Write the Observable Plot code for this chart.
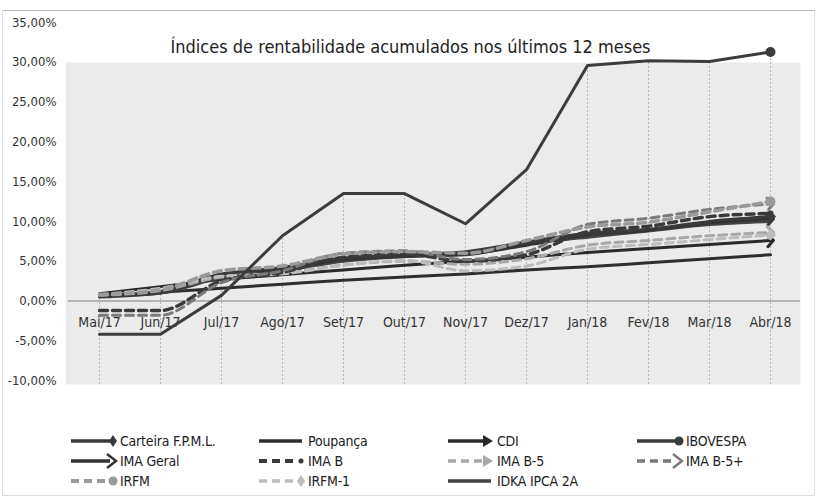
<!DOCTYPE html>
<html>
<head>
<meta charset="utf-8">
<script src="https://cdn.jsdelivr.net/npm/d3@7"></script>
<script src="https://cdn.jsdelivr.net/npm/@observablehq/plot@0.6"></script>
<style>
  html, body { margin: 0; padding: 0; background: #fff; }
  #wrap { position: relative; width: 819px; height: 499px; overflow: hidden; font-family: "DejaVu Sans Condensed", "Liberation Sans", sans-serif; font-stretch: condensed; }
  #border { position: absolute; left: 2px; top: 10px; width: 813px; height: 486px; border: 1px solid #dedede; border-top-color: #b8b8b8; box-sizing: border-box; pointer-events: none; }
  #chart { position: absolute; left: 0; top: 0; }
  .leg { position: absolute; display: flex; align-items: center; font-size: 14px; color: #222; white-space: nowrap; letter-spacing: -0.2px; }
  .leg svg { margin-right: 2px; }
</style>
</head>
<body>
<div id="wrap"><div id="chart"></div><div id="border"></div></div>
<script>
const months = ["Mai/17","Jun/17","Jul/17","Ago/17","Set/17","Out/17","Nov/17","Dez/17","Jan/18","Fev/18","Mar/18","Abr/18"];
const yTicks = [-10, -5, 0, 5, 10, 15, 20, 25, 30, 35];
const title = "Índices de rentabilidade acumulados nos últimos 12 meses";

const seriesNames = ["Carteira F.P.M.L.","Poupança","CDI","IBOVESPA","IMA Geral","IMA B","IMA B-5","IMA B-5+","IRFM","IRFM-1","IDKA IPCA 2A"];
const carteira = [0.6, 1.0, 3.3, 4.2, 5.4, 5.8, 6.2, 7.4, 8.5, 9.0, 10.0, 10.6];
const poupanca = [0.55, 1.1, 1.6, 2.1, 2.6, 3.0, 3.4, 3.9, 4.3, 4.8, 5.3, 5.8];
const cdi = [0.9, 1.8, 2.7, 3.3, 3.9, 4.5, 5.0, 5.5, 6.1, 6.6, 7.1, 7.6];
const ibovespa = [-4.2, -4.2, 0.7, 8.2, 13.5, 13.5, 9.7, 16.5, 29.6, 30.2, 30.1, 31.3];
const imaGeral = [0.7, 1.2, 3.4, 4.0, 5.2, 5.6, 5.9, 7.0, 8.3, 8.9, 9.8, 10.3];
const imaB = [-1.2, -1.2, 2.5, 3.6, 5.5, 5.9, 5.0, 5.8, 8.7, 9.4, 10.6, 11.0];
const imaB5 = [0.7, 1.3, 3.0, 3.5, 4.5, 5.0, 4.6, 5.3, 7.0, 7.6, 8.2, 8.6];
const imaB5mais = [-1.8, -1.8, 2.3, 3.8, 6.0, 6.3, 5.2, 6.2, 9.6, 10.4, 11.5, 12.2];
const irfm = [0.8, 1.4, 3.8, 4.4, 5.9, 6.2, 6.0, 7.6, 9.3, 9.9, 11.2, 12.5];
const irfm1 = [0.8, 1.6, 3.1, 3.4, 4.5, 5.1, 3.8, 4.4, 6.5, 7.1, 7.7, 8.3];
const idka = [0.5, 1.0, 2.9, 3.8, 5.0, 5.6, 5.8, 7.2, 8.0, 8.8, 9.6, 10.0];

const seriesValues = [carteira, poupanca, cdi, ibovespa, imaGeral, imaB, imaB5, imaB5mais, irfm, irfm1, idka];

const styles = [
  {color: "#3a3a3a", dash: null, width: 3, marker: "diamond"},
  {color: "#2e2e2e", dash: null, width: 3, marker: null},
  {color: "#2a2a2a", dash: null, width: 3, marker: "arrow"},
  {color: "#3c3c3c", dash: null, width: 3, marker: "circle"},
  {color: "#333333", dash: null, width: 3, marker: "open"},
  {color: "#3a3a3a", dash: "8,5", width: 3.5, marker: "dot"},
  {color: "#a8a8a8", dash: "8,5", width: 3, marker: "arrow"},
  {color: "#7a7a7a", dash: "8,5", width: 3, marker: "open"},
  {color: "#9a9a9a", dash: "8,5", width: 3.5, marker: "circle"},
  {color: "#bdbdbd", dash: "8,5", width: 3, marker: "diamond"},
  {color: "#444444", dash: null, width: 3, marker: null}
];

const rows = [];
seriesNames.forEach((name, i) => {
  seriesValues[i].forEach((v, j) => rows.push({name, month: months[j], value: v, idx: j}));
});
const maxPerMonth = months.map((m, j) => ({month: m, top: d3.max(seriesValues, s => s[j])}));

const fmt = v => v.toFixed(2).replace(".", ",") + "%";

const lineMarks = [];
const drawOrder = [1, 2, 10, 4, 0, 6, 9, 5, 7, 8, 3];
for (const i of drawOrder) {
  const st = styles[i];
  const data = rows.filter(r => r.name === seriesNames[i]);
  lineMarks.push(Plot.line(data, {
    x: "month", y: "value",
    stroke: st.color, strokeWidth: st.width,
    strokeDasharray: st.dash || undefined,
    curve: i === 3 ? "linear" : "monotone-x",
    markerEnd: (st.marker === "arrow" || st.marker === "open") ? "arrow" : undefined
  }));
  const last = data[data.length - 1];
  if (st.marker === "diamond") lineMarks.push(Plot.dot([last], {x: "month", y: "value", symbol: "diamond2", r: 5, fill: st.color}));
  if (st.marker === "circle") lineMarks.push(Plot.dot([last], {x: "month", y: "value", symbol: "circle", r: 5, fill: st.color}));
  if (st.marker === "dot") lineMarks.push(Plot.dot([last], {x: "month", y: "value", symbol: "circle", r: 3, fill: st.color}));
}

const plot = Plot.plot({
  width: 819,
  height: 400,
  marginLeft: 68,
  marginRight: 19,
  marginTop: 22,
  marginBottom: 20,
  style: {fontFamily: "DejaVu Sans Condensed, Liberation Sans, sans-serif", background: "transparent"},
  x: {type: "point", domain: months, padding: 0.5, axis: null},
  y: {domain: [-10, 35], ticks: yTicks, tickFormat: fmt},
  marks: [
    Plot.frame({fill: "#ebebeb", stroke: null, insetTop: 40, insetBottom: -4, insetLeft: -3}),
    Plot.ruleX(maxPerMonth, {x: "month", y1: -10.5, y2: "top", stroke: "#a8a8a8", strokeWidth: 0.8, strokeDasharray: "2,2"}),
    Plot.ruleY([0], {stroke: "#a0a0a0", strokeWidth: 1.5}),
    Plot.axisY({ticks: yTicks, tickFormat: fmt, tickSize: 0, tickPadding: 12, fontSize: 13, color: "#333", label: null}),
    Plot.text(months, {x: d => d, y: -2.7, text: d => d, fontSize: 14, fill: "#333"}),
    ...lineMarks,
    Plot.text([title], {frameAnchor: "top", dx: -24, dy: 25, text: d => d, fontSize: 18, fill: "#222", lineAnchor: "middle"})
  ]
});
document.getElementById("chart").appendChild(plot);

const colX = [70, 258, 447, 636];
const rowY = [441, 461, 481];
const wrap = document.getElementById("wrap");
seriesNames.forEach((name, i) => {
  const st = styles[i];
  const col = i % 4, row = Math.floor(i / 4);
  const div = document.createElement("div");
  div.className = "leg";
  div.style.left = colX[col] + "px";
  div.style.top = (rowY[row] - 9) + "px";
  const svg = d3.create("svg").attr("width", 48).attr("height", 18);
  svg.append("line").attr("x1", 1).attr("x2", st.marker ? 40 : 44).attr("y1", 9).attr("y2", 9)
    .attr("stroke", st.color).attr("stroke-width", st.width + 0.5).attr("stroke-dasharray", st.dash);
  if (st.marker === "arrow") svg.append("path").attr("d", "M36,3 L46,9 L36,15 Z").attr("fill", st.color);
  if (st.marker === "open") svg.append("path").attr("d", "M37,2 L46,9 L37,16").attr("fill", "none").attr("stroke", st.color).attr("stroke-width", 2.5);
  if (st.marker === "diamond") svg.append("path").attr("d", "M43,3 L47,9 L43,15 L39,9 Z").attr("fill", st.color);
  if (st.marker === "circle") svg.append("circle").attr("cx", 43).attr("cy", 9).attr("r", 4.5).attr("fill", st.color);
  if (st.marker === "dot") svg.append("circle").attr("cx", 43).attr("cy", 9).attr("r", 2.5).attr("fill", st.color);
  div.appendChild(svg.node());
  const span = document.createElement("span");
  span.textContent = name;
  div.appendChild(span);
  wrap.appendChild(div);
});
</script>
</body>
</html>
